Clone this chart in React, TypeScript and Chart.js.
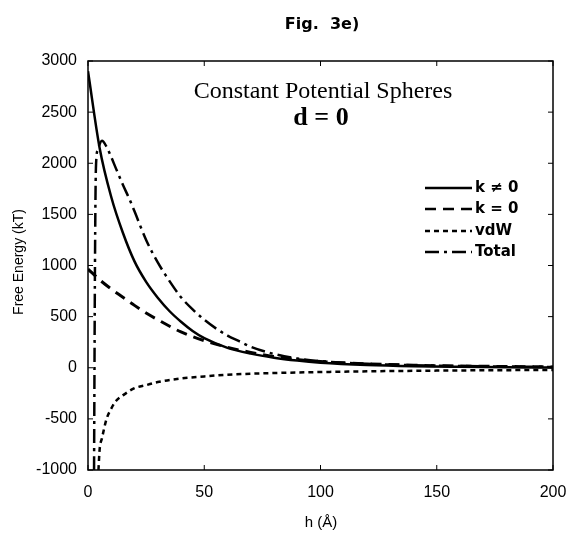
import React, { useEffect, useRef } from "react";
import { Chart, registerables } from "chart.js";
Chart.register(...registerables);

const xTicks = [0, 50, 100, 150, 200];
const yTicks = [-1000, -500, 0, 500, 1000, 1500, 2000, 2500, 3000];

const kNonzeroH = [0, 5, 10, 15, 20, 25, 30, 35, 40, 45, 50, 60, 70, 80, 90, 100, 120, 140, 160, 180, 200];
const kNonzeroE = [2900, 2150, 1670, 1320, 1040, 840, 685, 555, 450, 360, 290, 195, 138, 98, 70, 50, 27, 15, 9, 5, 3];

const kZeroH = [0, 5, 10, 15, 20, 25, 30, 40, 50, 60, 70, 80, 90, 100, 120, 140, 160, 180, 200];
const kZeroE = [965, 860, 770, 690, 610, 535, 470, 350, 265, 200, 150, 110, 80, 60, 38, 25, 17, 12, 8];

const vdwH = [4.5, 5, 6, 8, 10, 12, 15, 20, 25, 30, 40, 50, 60, 80, 100, 120, 150, 200];
const vdwE = [-1000, -800, -690, -500, -400, -325, -270, -200, -170, -140, -105, -85, -68, -52, -42, -35, -28, -21];

const totalH = [2.6, 3.0, 3.4, 4.2, 6, 8, 10, 12, 15, 18, 20, 25, 30, 35, 40, 45, 50, 55, 60, 65, 70, 80, 90, 100, 120, 140, 160, 180, 200];
const totalE = [-1000, 1000, 1950, 2130, 2220, 2160, 2060, 1950, 1790, 1640, 1530, 1250, 1030, 850, 690, 570, 470, 385, 315, 260, 205, 135, 90, 65, 38, 25, 17, 12, 8];

const seriesNames = ["k \u2260 0", "k = 0", "vdW", "Total"];
const seriesDash = [[], [11, 7], [5, 4], [14, 5, 3, 5]];

const SANS = '"Liberation Sans", Arial, sans-serif';
const WIDE = '"DejaVu Sans", Verdana, sans-serif';
const SERIF = '"Liberation Serif", "Times New Roman", serif';

function pts(h: number[], e: number[]) {
  return h.map((x, i) => ({ x, y: e[i] }));
}

const decorPlugin = {
  id: "decor",
  afterDraw(chart: any) {
    const { ctx, chartArea } = chart;
    const xs = chart.scales.x;
    const ys = chart.scales.y;
    ctx.save();
    ctx.strokeStyle = "#000";
    ctx.lineWidth = 1.5;
    ctx.setLineDash([]);
    ctx.strokeRect(chartArea.left, chartArea.top, chartArea.right - chartArea.left, chartArea.bottom - chartArea.top);
    const tl = 5;
    ctx.lineWidth = 1;
    ctx.beginPath();
    xTicks.forEach((v) => {
      const px = xs.getPixelForValue(v);
      ctx.moveTo(px, chartArea.bottom);
      ctx.lineTo(px, chartArea.bottom - tl);
      ctx.moveTo(px, chartArea.top);
      ctx.lineTo(px, chartArea.top + tl);
    });
    yTicks.forEach((v) => {
      const py = ys.getPixelForValue(v);
      ctx.moveTo(chartArea.left, py);
      ctx.lineTo(chartArea.left + tl, py);
      ctx.moveTo(chartArea.right, py);
      ctx.lineTo(chartArea.right - tl, py);
    });
    ctx.stroke();

    ctx.fillStyle = "#000";
    ctx.textAlign = "center";
    ctx.textBaseline = "alphabetic";
    ctx.font = `bold 16px ${WIDE}`;
    ctx.fillText("Fig.  3e)", 322, 29);

    ctx.font = `24px ${SERIF}`;
    ctx.fillText("Constant Potential Spheres", 323, 98);
    ctx.font = `bold 26px ${SERIF}`;
    ctx.fillText("d = 0", 321, 125);

    ctx.textBaseline = "middle";
    ctx.font = `15px ${SANS}`;
    ctx.fillText("h (\u00C5)", 321, 523);
    ctx.save();
    ctx.translate(19, 262);
    ctx.rotate(-Math.PI / 2);
    ctx.font = `14px ${SANS}`;
    ctx.fillText("Free Energy (kT)", 0, 0);
    ctx.restore();

    const rows = [188, 209, 231, 252];
    ctx.textAlign = "left";
    ctx.font = `bold 15px ${WIDE}`;
    seriesNames.forEach((name, i) => {
      ctx.save();
      ctx.lineWidth = 2.5;
      ctx.setLineDash(seriesDash[i]);
      ctx.beginPath();
      ctx.moveTo(425, rows[i]);
      ctx.lineTo(472, rows[i]);
      ctx.stroke();
      ctx.restore();
      ctx.fillText(name, 475, rows[i]);
    });
    ctx.restore();
  },
};

export default function App() {
  const ref = useRef<HTMLCanvasElement | null>(null);
  useEffect(() => {
    if (!ref.current) return;
    const data = [pts(kNonzeroH, kNonzeroE), pts(kZeroH, kZeroE), pts(vdwH, vdwE), pts(totalH, totalE)];
    const chart = new Chart(ref.current, {
      type: "line",
      data: {
        datasets: data.map((d, i) => ({
          label: seriesNames[i],
          data: d,
          borderColor: "#000",
          borderWidth: i === 1 ? 3 : 2.5,
          borderDash: seriesDash[i],
          pointRadius: 0,
          fill: false,
          cubicInterpolationMode: "monotone" as const,
        })),
      },
      options: {
        responsive: false,
        animation: false,
        layout: { padding: { top: 61, right: 16, left: 0, bottom: 0 } },
        plugins: { legend: { display: false }, tooltip: { enabled: false }, title: { display: false } },
        scales: {
          x: {
            type: "linear",
            min: 0,
            max: 200,
            afterFit: (s: any) => { s.height = 71; s.paddingLeft = 0; s.paddingRight = 0; },
            afterBuildTicks: (s: any) => { s.ticks = xTicks.map((v) => ({ value: v })); },
            grid: { display: false, drawTicks: false },
            border: { display: false },
            ticks: { padding: 13, color: "#000", font: { family: SANS, size: 16 }, callback: (v: any) => String(v) },
          },
          y: {
            type: "linear",
            min: -1000,
            max: 3000,
            afterFit: (s: any) => { s.width = 88; s.paddingTop = 0; s.paddingBottom = 0; },
            afterBuildTicks: (s: any) => { s.ticks = yTicks.map((v) => ({ value: v })); },
            grid: { display: false, drawTicks: false },
            border: { display: false },
            ticks: { padding: 11, color: "#000", font: { family: SANS, size: 16 }, callback: (v: any) => String(v) },
          },
        },
      },
      plugins: [decorPlugin],
    });
    return () => chart.destroy();
  }, []);
  return (
    <div style={{ position: "absolute", left: 0, top: 0, width: 569, height: 541, background: "#fff" }}>
      <canvas ref={ref} width={569} height={541} />
    </div>
  );
}
